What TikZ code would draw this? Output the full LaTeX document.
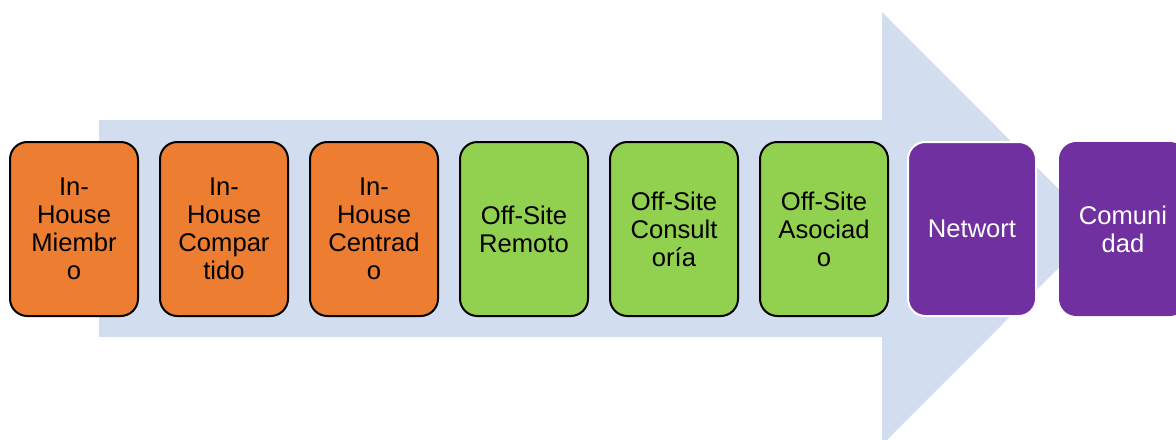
\documentclass[tikz,border=0pt]{standalone}
\usepackage{fontspec}
\setmainfont{Liberation Sans}
\definecolor{arrowblue}{HTML}{D2DEEF}
\definecolor{boxorange}{HTML}{ED7D31}
\definecolor{boxgreen}{HTML}{92D050}
\definecolor{boxpurple}{HTML}{7030A0}
\tikzset{
  stage/.style={rectangle, rounded corners=13pt, minimum width=96pt,
    minimum height=130.5pt, align=center, line width=1.5pt,
    font=\fontsize{19.2}{21}\selectfont, inner sep=0pt},
  inhouse/.style={stage, draw=black, fill=boxorange, text=black},
  offsite/.style={stage, draw=black, fill=boxgreen, text=black},
  outer/.style={stage, fill=boxpurple, text=white},
}
\begin{document}
\begin{tikzpicture}[x=0.75pt, y=-0.75pt]
  \useasboundingbox (0,0) rectangle (1176,439);
  \clip (0,0) rectangle (1176,439);
  % background arrow
  \fill[arrowblue] (99,120) -- (882,120) -- (882,12) -- (1098,228.5)
    -- (882,445) -- (882,337) -- (99,337) -- cycle;
  % stages
  \node[inhouse] (n1) at (74,229)  {In-\\House\\Miembr\\o};
  \node[inhouse] (n2) at (224,229) {In-\\House\\Compar\\tido};
  \node[inhouse] (n3) at (374,229) {In-\\House\\Centrad\\o};
  \node[offsite] (n4) at (524,229) {Off-Site\\Remoto};
  \node[offsite] (n5) at (674,229) {Off-Site\\Consult\\oría};
  \node[offsite] (n6) at (824,229) {Off-Site\\Asociad\\o};
  \node[outer, draw=white] (n7) at (972,229) {Networt};
  \node[outer] (n8) at (1123,229) {Comuni\\dad};
\end{tikzpicture}
\end{document}
